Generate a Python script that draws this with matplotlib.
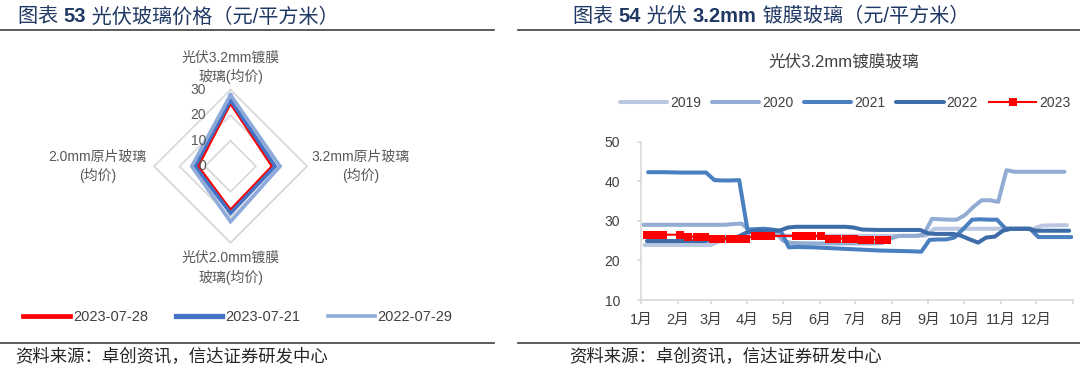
import numpy as np
import pandas as pd
import matplotlib
matplotlib.use('Agg')
import matplotlib.pyplot as plt
from matplotlib.lines import Line2D

plt.rcParams['font.family'] = ['Liberation Sans', 'Noto Sans CJK SC']
plt.rcParams['axes.unicode_minus'] = False

W, H = 1080, 370

### Left panel: radar of glass prices
radar_axes = ['光伏3.2mm镀膜\n玻璃(均价)', '3.2mm原片玻璃\n(均价)',
              '光伏2.0mm镀膜\n玻璃(均价)', '2.0mm原片玻璃\n(均价)']
radar_labels = ['2023-07-28', '2023-07-21', '2022-07-29']
radar_0728 = [24.8, 16.4, 17.2, 12.8]
radar_0721 = [26.0, 17.5, 18.4, 13.9]
radar_2207 = [28.0, 19.4, 21.7, 15.2]
radar_ticks = [0, 10, 20, 30]

### Right panel: weekly 3.2mm coated glass price by year (MM-DD in the year)
dates19 = ['01-04', '01-18', '02-01', '02-15', '03-01', '03-08', '03-15', '03-22', '04-05', '04-19',
           '05-03', '05-17', '05-31', '06-14', '06-28', '07-12', '07-26', '08-09', '08-23', '08-30',
           '09-06', '09-20', '10-04', '10-18', '11-01', '11-15', '11-29', '12-06', '12-20', '12-27']
vals19 = [23.9, 23.9, 23.9, 23.9, 23.9, 24.8, 25.5, 25.8, 26.2, 26.3,
          26.3, 26.2, 26.2, 26.2, 26.2, 26.2, 26.2, 26.2, 26.2, 26.3,
          28.0, 28.0, 28.0, 28.0, 28.0, 28.0, 28.0, 28.8, 28.9, 28.9]

dates20 = ['01-03', '01-17', '01-31', '02-14', '02-28', '03-13', '03-20', '03-27', '04-03', '04-17',
           '04-24', '05-01', '05-08', '05-22', '06-05', '06-19', '07-03', '07-17', '07-24', '07-31',
           '08-07', '08-21', '08-28', '09-04', '09-18', '09-25', '10-02', '10-09', '10-16', '10-23',
           '10-30', '11-06', '11-13', '11-27', '12-11', '12-25']
vals20 = [29.0, 29.0, 29.0, 29.0, 29.0, 29.0, 29.2, 29.3, 27.6, 27.5,
          27.3, 25.0, 24.4, 24.3, 24.3, 24.3, 24.3, 24.3, 24.4, 25.5,
          26.2, 26.2, 26.5, 30.5, 30.3, 30.3, 31.5, 33.5, 35.2, 35.2,
          34.8, 42.8, 42.4, 42.4, 42.4, 42.4]

dates21 = ['01-07', '01-21', '02-04', '02-18', '02-25', '03-04', '03-11', '03-18', '03-25', '04-01',
           '04-08', '04-15', '04-22', '04-29', '05-06', '05-13', '05-27', '06-10', '06-24', '07-08',
           '07-22', '08-05', '08-19', '08-26', '09-02', '09-09', '09-16', '09-23', '09-30', '10-08',
           '10-15', '10-22', '10-29', '11-05', '11-12', '11-19', '11-26', '12-03', '12-10', '12-17',
           '12-24', '12-31']
vals21 = [42.3, 42.3, 42.2, 42.2, 42.2, 40.3, 40.2, 40.2, 40.3, 27.8,
          27.9, 28.0, 27.8, 27.5, 23.3, 23.4, 23.3, 23.1, 22.9, 22.7,
          22.5, 22.4, 22.3, 22.2, 25.2, 25.3, 25.3, 25.8, 27.8, 30.3,
          30.4, 30.3, 30.3, 28.1, 28.0, 28.0, 28.0, 25.9, 25.9, 25.9,
          25.9, 25.9]

dates22 = ['01-06', '01-20', '02-03', '02-17', '02-24', '03-03', '03-10', '03-17', '03-24', '03-31',
           '04-07', '04-21', '04-28', '05-05', '05-12', '05-26', '06-09', '06-23', '06-30', '07-07',
           '07-21', '08-04', '08-18', '08-25', '09-01', '09-08', '09-22', '09-29', '10-06', '10-13',
           '10-20', '10-27', '11-03', '11-10', '11-24', '12-01', '12-15', '12-29']
vals22 = [24.9, 24.9, 24.9, 24.9, 24.9, 25.2, 25.5, 25.8, 26.0, 27.0,
          27.5, 27.5, 27.5, 28.3, 28.5, 28.5, 28.5, 28.5, 28.3, 27.8,
          27.7, 27.7, 27.7, 27.7, 26.8, 26.7, 26.7, 26.2, 25.3, 24.5,
          25.8, 26.0, 27.5, 28.0, 28.0, 27.5, 27.5, 27.5]

dates23 = ['01-06', '01-13', '01-20', '02-03', '02-10', '02-17', '02-24', '03-03', '03-10', '03-17',
           '03-24', '03-31', '04-07', '04-14', '04-21', '05-12', '05-19', '05-26', '06-02', '06-09',
           '06-16', '06-23', '06-30', '07-07', '07-14', '07-21', '07-28']
vals23 = [26.5, 26.5, 26.5, 26.5, 26.0, 26.0, 26.0, 25.5, 25.5, 25.5,
          25.5, 25.5, 26.2, 26.2, 26.2, 26.2, 26.2, 26.2, 26.2, 25.5,
          25.5, 25.5, 25.5, 25.25, 25.25, 25.25, 25.25]

month_labels = ['1月', '2月', '3月', '4月', '5月', '6月', '7月', '8月', '9月', '10月', '11月', '12月']
price_ticks = [10, 20, 30, 40, 50]

NAVY = '#1f3864'
GREY_TXT = '#404040'
SOURCE = '资料来源：卓创资讯，信达证券研发中心'


def fx(px):
    return px / W


def fy(py):
    return 1 - py / H


def to_dates(mmdd):
    return pd.to_datetime(['2023-' + d for d in mmdd])


def chain_title(bg, x, y, parts):
    prev = bg.text(fx(x), fy(y), parts[0][0], transform=bg.transAxes, fontsize=14.5,
                   color=NAVY, fontweight=parts[0][1], ha='left', va='center')
    for text, weight in parts[1:]:
        prev = bg.annotate(text, xy=(1, 0.5), xycoords=prev, fontsize=14.5, color=NAVY,
                           fontweight=weight, ha='left', va='center')


def draw_frame(fig):
    bg = fig.add_axes([0, 0, 1, 1])
    bg.axis('off')
    bg.patch.set_alpha(0)

    ### Rules above and below each panel
    for x0, x1 in [(0, 494), (518, 1080)]:
        for y in [30, 343.3]:
            bg.add_line(Line2D([fx(x0), fx(x1)], [fy(y), fy(y)], color='#3f3f3f', lw=1.2,
                               transform=bg.transAxes))

    chain_title(bg, 18, 16.7, [('图表 ', 'normal'), ('53', 'bold'), (' 光伏玻璃价格（元/平方米）', 'normal')])
    chain_title(bg, 573, 16.7, [('图表 ', 'normal'), ('54', 'bold'), (' 光伏 ', 'normal'),
                                ('3.2mm', 'bold'), (' 镀膜玻璃（元/平方米）', 'normal')])

    for x in [15, 569]:
        bg.text(fx(x), fy(356.7), SOURCE, transform=bg.transAxes, fontsize=12.5,
                color='#262626', style='italic', ha='left', va='center')


def draw_radar(fig):
    ax = fig.add_axes([fx(154), fy(242.8), 153 / W, 153 / H], projection='polar')
    ax.set_theta_offset(np.pi / 2)
    ax.set_theta_direction(-1)
    ax.set_ylim(0, 30)
    ax.grid(False)
    ax.spines['polar'].set_visible(False)
    ax.set_xticks([])
    ax.set_yticks([])
    ax.patch.set_alpha(0)

    angles = np.linspace(0, 2 * np.pi, len(radar_axes), endpoint=False)
    closed = np.append(angles, angles[0])

    ### Diamond grid
    for r in radar_ticks[1:]:
        ax.plot(closed, [r] * len(closed), color='#d9d9d9', lw=1.3, clip_on=False, zorder=1)

    ### Series
    series = [(radar_0728, '#ff0000', 2.2), (radar_0721, '#4472c4', 2.6), (radar_2207, '#8eaadb', 2.6)]
    handles = []
    for (vals, color, lw), label in zip(series, radar_labels):
        ax.plot(closed, vals + vals[:1], color=color, lw=lw, clip_on=False, zorder=3,
                solid_joinstyle='miter')
        handles.append(Line2D([], [], color=color, lw=lw + 1.2 if color != '#8eaadb' else lw, label=label))

    ### Radial tick labels along the top axis
    for r in radar_ticks:
        ax.annotate(str(r), xy=(0, r), xytext=(-17.5, 0), textcoords='offset points',
                    ha='right', va='center', fontsize=10, color='#595959', annotation_clip=False)

    ### Category labels
    placement = [((0, 4.5), 'center', 'bottom'), ((3.5, 0), 'left', 'center'),
                 ((0, -6), 'center', 'top'), ((-5.5, 0), 'right', 'center')]
    for ang, name, (off, ha, va) in zip(angles, radar_axes, placement):
        ax.annotate(name, xy=(ang, 30), xytext=off, textcoords='offset points', ha=ha, va=va,
                    multialignment='center', fontsize=10, color='#595959', linespacing=1.35,
                    annotation_clip=False)

    fig.legend(handles=handles, loc='center', bbox_to_anchor=(fx(238), fy(316.7)), ncol=3,
               frameon=False, fontsize=10.5, handlelength=3.2, handletextpad=0.2,
               columnspacing=1.9, labelcolor=GREY_TXT)


def draw_lines(fig):
    ax = fig.add_axes([fx(641), fy(300), (1072.7 - 641) / W, (300 - 141.7) / H])

    years = [(dates19, vals19, '2019', '#b9c8e0'), (dates20, vals20, '2020', '#93acd3'),
             (dates21, vals21, '2021', '#4a7fc0'), (dates22, vals22, '2022', '#3d6ca8')]
    for d, v, label, color in years:
        ax.plot(to_dates(d), v, color=color, lw=2.9, label=label,
                solid_capstyle='round', solid_joinstyle='round')
    ax.plot(to_dates(dates23), vals23, color='#ff0000', lw=1.5, marker='s', markersize=5.8,
            markeredgewidth=0, label='2023')

    ax.set_xlim(pd.Timestamp('2023-01-01'), pd.Timestamp('2024-01-01'))
    ax.set_ylim(price_ticks[0], price_ticks[-1])
    ax.set_yticks(price_ticks)
    ax.set_xticks(pd.date_range('2023-01-01', '2024-01-01', freq='MS'))
    ax.set_xticklabels(month_labels + [''])

    for s in ['top', 'right']:
        ax.spines[s].set_visible(False)
    for s in ['left', 'bottom']:
        ax.spines[s].set_color('#d9d9d9')
        ax.spines[s].set_linewidth(1.2)
    ax.tick_params(axis='both', colors='#d9d9d9', length=3, width=1.2, labelcolor=GREY_TXT)
    ax.tick_params(axis='y', pad=12, labelsize=10)
    ax.tick_params(axis='x', pad=6, labelsize=10.5)

    fig.text(fx(844), fy(61.7), '光伏3.2mm镀膜玻璃', ha='center', va='center',
             fontsize=12, color=GREY_TXT)
    ax.legend(loc='center', bbox_to_anchor=(fx(845), fy(102.7)), bbox_transform=fig.transFigure,
              ncol=5, frameon=False, fontsize=10, handlelength=3.4, handletextpad=0.2,
              columnspacing=0.8, labelcolor=GREY_TXT)


def main():
    fig = plt.figure(figsize=(W / 100, H / 100), dpi=100)
    draw_frame(fig)
    draw_radar(fig)
    draw_lines(fig)
    fig.savefig('out.png', dpi=100)


if __name__ == '__main__':
    main()
